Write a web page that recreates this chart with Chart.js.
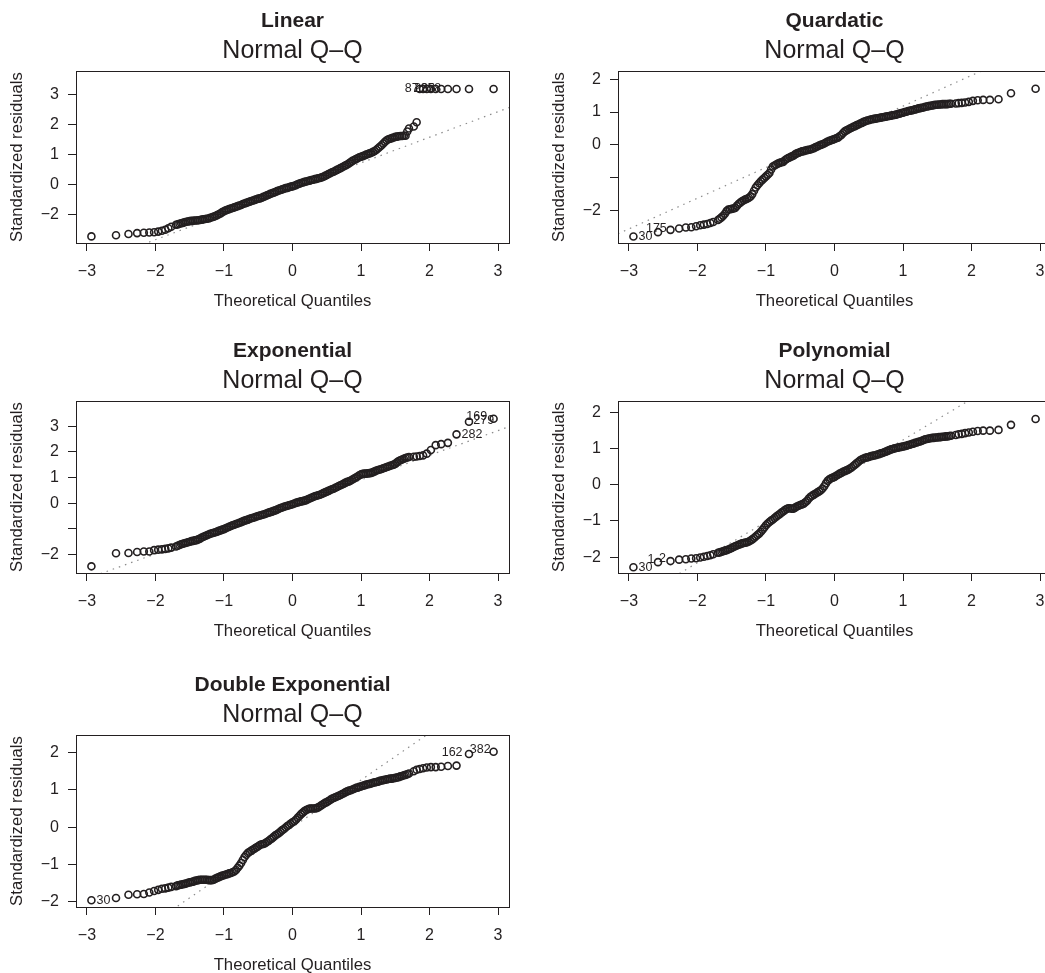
<!DOCTYPE html>
<html>
<head>
<meta charset="utf-8">
<title>Normal Q-Q plots</title>
<script src="https://cdn.jsdelivr.net/npm/chart.js@4.4.1/dist/chart.umd.min.js"></script>
<style>
  html, body { margin: 0; padding: 0; background: #fff; overflow: hidden; }
  body { width: 1045px; height: 973px; position: relative; }
  canvas { position: absolute; }
</style>
</head>
<body>
<script>
const FONT = "'Liberation Sans', Arial, Helvetica, sans-serif";
const INK = '#231f20';

// theoretical quantiles (same sample size for every fit)
const theoQuantiles = [
  -2.935, -2.576, -2.394, -2.268, -2.170, -2.090, -2.020, -1.960, -1.906, -1.857, -1.812, -1.770,
  -1.700, -1.675, -1.650, -1.625, -1.600, -1.575, -1.550, -1.525, -1.500, -1.475,
  -1.450, -1.425, -1.400, -1.375, -1.350, -1.325, -1.300, -1.275, -1.250, -1.225,
  -1.200, -1.175, -1.150, -1.125, -1.100, -1.075, -1.050, -1.025, -1.000, -0.975,
  -0.950, -0.925, -0.900, -0.875, -0.850, -0.825, -0.800, -0.775, -0.750, -0.725,
  -0.700, -0.675, -0.650, -0.625, -0.600, -0.575, -0.550, -0.525, -0.500, -0.475,
  -0.450, -0.425, -0.400, -0.375, -0.350, -0.325, -0.300, -0.275, -0.250, -0.225,
  -0.200, -0.175, -0.150, -0.125, -0.100, -0.075, -0.050, -0.025, 0.000, 0.025,
  0.050, 0.075, 0.100, 0.125, 0.150, 0.175, 0.200, 0.225, 0.250, 0.275,
  0.300, 0.325, 0.350, 0.375, 0.400, 0.425, 0.450, 0.475, 0.500, 0.525,
  0.550, 0.575, 0.600, 0.625, 0.650, 0.675, 0.700, 0.725, 0.750, 0.775,
  0.800, 0.825, 0.850, 0.875, 0.900, 0.925, 0.950, 0.975, 1.000, 1.025,
  1.050, 1.075, 1.100, 1.125, 1.150, 1.175, 1.200, 1.225, 1.250, 1.275,
  1.300, 1.325, 1.350, 1.375, 1.400, 1.425, 1.450, 1.475, 1.500, 1.525,
  1.550, 1.575, 1.600, 1.625, 1.650, 1.675, 1.700,
  1.770, 1.812, 1.857, 1.906, 1.960, 2.020, 2.090, 2.170, 2.268, 2.394, 2.576, 2.935
];

const linearResiduals = [
  -1.72, -1.68, -1.64, -1.61, -1.60, -1.59, -1.58, -1.56, -1.53, -1.50, -1.45, -1.40,
  -1.33, -1.32, -1.30, -1.28, -1.27, -1.25, -1.23, -1.22, -1.21, -1.20,
  -1.20, -1.19, -1.19, -1.18, -1.17, -1.16, -1.15, -1.14, -1.13, -1.12,
  -1.10, -1.08, -1.06, -1.04, -1.01, -0.98, -0.95, -0.91, -0.88, -0.85,
  -0.83, -0.81, -0.79, -0.77, -0.75, -0.73, -0.71, -0.69, -0.67, -0.64,
  -0.62, -0.60, -0.58, -0.56, -0.54, -0.52, -0.50, -0.48, -0.46, -0.45,
  -0.43, -0.40, -0.38, -0.35, -0.33, -0.30, -0.28, -0.26, -0.24, -0.21,
  -0.19, -0.17, -0.15, -0.13, -0.11, -0.10, -0.08, -0.06, -0.05, -0.03,
  -0.01, 0.02, 0.04, 0.06, 0.08, 0.10, 0.11, 0.13, 0.14, 0.16,
  0.17, 0.19, 0.20, 0.22, 0.23, 0.25, 0.27, 0.30, 0.33, 0.36,
  0.39, 0.42, 0.44, 0.47, 0.50, 0.53, 0.56, 0.59, 0.62, 0.65,
  0.68, 0.72, 0.76, 0.80, 0.83, 0.86, 0.89, 0.92, 0.94, 0.96,
  0.98, 1.01, 1.03, 1.05, 1.07, 1.10, 1.13, 1.17, 1.22, 1.27,
  1.32, 1.38, 1.44, 1.49, 1.52, 1.54, 1.56, 1.58, 1.60, 1.61,
  1.62, 1.63, 1.63, 1.64, 1.64, 1.78, 1.88,
  1.95, 2.09, 3.20, 3.20, 3.20, 3.20, 3.20, 3.20, 3.20, 3.20, 3.20, 3.20
];

const quadraticResiduals = [
  -2.79, -2.66, -2.59, -2.55, -2.52, -2.51, -2.48, -2.45, -2.43, -2.41, -2.38, -2.35,
  -2.29, -2.25, -2.21, -2.16, -2.10, -2.02, -1.97, -1.96, -1.95, -1.94,
  -1.92, -1.86, -1.80, -1.76, -1.72, -1.69, -1.66, -1.64, -1.61, -1.57,
  -1.50, -1.40, -1.30, -1.23, -1.17, -1.11, -1.06, -1.01, -0.96, -0.91,
  -0.86, -0.75, -0.66, -0.63, -0.60, -0.57, -0.55, -0.53, -0.52, -0.47,
  -0.43, -0.40, -0.38, -0.35, -0.33, -0.29, -0.26, -0.24, -0.22, -0.20,
  -0.19, -0.17, -0.16, -0.15, -0.14, -0.12, -0.10, -0.07, -0.05, -0.02,
  0.00, 0.02, 0.04, 0.07, 0.10, 0.12, 0.14, 0.16, 0.18, 0.20,
  0.22, 0.26, 0.30, 0.36, 0.41, 0.44, 0.47, 0.50, 0.52, 0.55,
  0.57, 0.60, 0.62, 0.65, 0.67, 0.70, 0.72, 0.74, 0.75, 0.77,
  0.78, 0.79, 0.80, 0.81, 0.82, 0.83, 0.84, 0.85, 0.86, 0.87,
  0.88, 0.89, 0.90, 0.91, 0.92, 0.94, 0.95, 0.97, 0.98, 1.00,
  1.01, 1.03, 1.04, 1.05, 1.06, 1.08, 1.09, 1.11, 1.12, 1.13,
  1.14, 1.16, 1.17, 1.18, 1.19, 1.20, 1.21, 1.22, 1.22, 1.23,
  1.23, 1.24, 1.24, 1.24, 1.24, 1.25, 1.25,
  1.26, 1.27, 1.28, 1.29, 1.31, 1.34, 1.36, 1.37, 1.37, 1.39, 1.57, 1.71
];

const exponentialResiduals = [
  -2.46, -1.95, -1.94, -1.90, -1.88, -1.88, -1.83, -1.81, -1.80, -1.78, -1.76, -1.73,
  -1.69, -1.66, -1.63, -1.60, -1.58, -1.56, -1.54, -1.52, -1.50, -1.48,
  -1.47, -1.45, -1.44, -1.41, -1.38, -1.34, -1.31, -1.28, -1.25, -1.22,
  -1.19, -1.17, -1.15, -1.13, -1.11, -1.08, -1.06, -1.03, -1.01, -0.98,
  -0.95, -0.92, -0.89, -0.86, -0.84, -0.81, -0.79, -0.76, -0.74, -0.71,
  -0.68, -0.66, -0.64, -0.61, -0.59, -0.57, -0.55, -0.52, -0.50, -0.48,
  -0.46, -0.44, -0.42, -0.39, -0.37, -0.35, -0.33, -0.30, -0.28, -0.25,
  -0.22, -0.19, -0.17, -0.14, -0.12, -0.10, -0.08, -0.06, -0.04, -0.01,
  0.01, 0.03, 0.05, 0.07, 0.08, 0.10, 0.12, 0.15, 0.18, 0.21,
  0.24, 0.27, 0.29, 0.31, 0.33, 0.36, 0.39, 0.42, 0.45, 0.48,
  0.51, 0.54, 0.56, 0.60, 0.63, 0.67, 0.70, 0.73, 0.76, 0.80,
  0.83, 0.85, 0.88, 0.92, 0.96, 1.00, 1.04, 1.09, 1.12, 1.14,
  1.15, 1.15, 1.16, 1.17, 1.18, 1.21, 1.24, 1.27, 1.29, 1.31,
  1.33, 1.36, 1.38, 1.41, 1.43, 1.46, 1.48, 1.50, 1.53, 1.59,
  1.64, 1.67, 1.70, 1.73, 1.76, 1.78, 1.80,
  1.81, 1.82, 1.84, 1.86, 1.93, 2.07, 2.26, 2.30, 2.35, 2.68, 3.17, 3.29
];

const polynomialResiduals = [
  -2.28, -2.14, -2.11, -2.07, -2.06, -2.04, -2.03, -2.01, -1.99, -1.97, -1.95, -1.92,
  -1.88, -1.87, -1.85, -1.84, -1.82, -1.81, -1.79, -1.77, -1.75, -1.72,
  -1.70, -1.68, -1.66, -1.64, -1.62, -1.61, -1.60, -1.59, -1.57, -1.54,
  -1.51, -1.47, -1.43, -1.39, -1.35, -1.30, -1.24, -1.18, -1.12, -1.07,
  -1.03, -0.99, -0.96, -0.92, -0.88, -0.84, -0.81, -0.77, -0.74, -0.70,
  -0.67, -0.65, -0.65, -0.66, -0.66, -0.63, -0.60, -0.58, -0.56, -0.54,
  -0.52, -0.48, -0.44, -0.38, -0.33, -0.30, -0.27, -0.24, -0.21, -0.18,
  -0.15, -0.10, -0.04, 0.04, 0.11, 0.15, 0.18, 0.20, 0.22, 0.25,
  0.28, 0.31, 0.33, 0.36, 0.38, 0.40, 0.42, 0.45, 0.48, 0.52,
  0.56, 0.60, 0.64, 0.68, 0.71, 0.73, 0.75, 0.76, 0.77, 0.79,
  0.80, 0.81, 0.82, 0.84, 0.85, 0.87, 0.88, 0.90, 0.92, 0.94,
  0.96, 0.98, 0.99, 1.01, 1.02, 1.03, 1.04, 1.05, 1.06, 1.07,
  1.08, 1.10, 1.11, 1.13, 1.14, 1.16, 1.17, 1.19, 1.20, 1.22,
  1.24, 1.26, 1.27, 1.28, 1.29, 1.30, 1.30, 1.31, 1.31, 1.32,
  1.32, 1.33, 1.33, 1.34, 1.34, 1.35, 1.36,
  1.38, 1.40, 1.41, 1.43, 1.45, 1.47, 1.49, 1.50, 1.50, 1.52, 1.66, 1.82
];

const doubleExpResiduals = [
  -1.96, -1.90, -1.81, -1.80, -1.79, -1.75, -1.71, -1.68, -1.65, -1.64, -1.62, -1.60,
  -1.58, -1.56, -1.55, -1.54, -1.53, -1.52, -1.51, -1.49, -1.48, -1.47,
  -1.46, -1.44, -1.43, -1.42, -1.41, -1.41, -1.41, -1.41, -1.41, -1.42,
  -1.42, -1.42, -1.41, -1.38, -1.36, -1.34, -1.32, -1.30, -1.29, -1.27,
  -1.26, -1.24, -1.23, -1.21, -1.19, -1.15, -1.09, -1.03, -0.96, -0.88,
  -0.80, -0.74, -0.69, -0.66, -0.63, -0.60, -0.57, -0.54, -0.51, -0.48,
  -0.46, -0.45, -0.43, -0.40, -0.37, -0.33, -0.30, -0.26, -0.22, -0.19,
  -0.16, -0.12, -0.08, -0.05, -0.01, 0.03, 0.06, 0.10, 0.13, 0.16,
  0.20, 0.25, 0.30, 0.35, 0.39, 0.43, 0.46, 0.48, 0.50, 0.50,
  0.50, 0.50, 0.51, 0.53, 0.56, 0.59, 0.62, 0.65, 0.67, 0.70,
  0.73, 0.76, 0.78, 0.80, 0.82, 0.84, 0.86, 0.89, 0.91, 0.94,
  0.96, 0.98, 0.99, 1.01, 1.03, 1.05, 1.06, 1.08, 1.09, 1.11,
  1.12, 1.14, 1.15, 1.16, 1.17, 1.19, 1.20, 1.21, 1.22, 1.24,
  1.25, 1.26, 1.27, 1.28, 1.29, 1.30, 1.30, 1.31, 1.32, 1.33,
  1.34, 1.36, 1.37, 1.39, 1.40, 1.42, 1.44,
  1.50, 1.54, 1.56, 1.58, 1.60, 1.61, 1.61, 1.62, 1.64, 1.65, 1.96, 2.02
];

// x axis (shared)
const xRange = [-3.16, 3.16];
const xTickValues = [-3, -2, -1, 0, 1, 2, 3];
const xTickLabels = ['−3', '−2', '−1', '0', '1', '2', '3'];

// y axes, labels as printed in the figure
const linearRange = [-1.94, 3.80];
const linearYTicks = [-1, 0, 1, 2, 3];
const linearYLabels = ['−2', '0', '1', '2', '3'];

const quadraticRange = [-2.99, 2.25];
const quadraticYTicks = [-2, -1, 0, 1, 2];
const quadraticYLabels = ['−2', '', '0', '1', '2'];

const exponentialRange = [-2.72, 3.98];
const exponentialYTicks = [-2, -1, 0, 1, 2, 3];
const exponentialYLabels = ['−2', '', '0', '1', '2', '3'];

const polynomialRange = [-2.44, 2.32];
const polynomialYTicks = [-2, -1, 0, 1, 2];
const polynomialYLabels = ['−2', '−1', '0', '1', '2'];

const doubleExpRange = [-2.14, 2.47];
const doubleExpYTicks = [-2, -1, 0, 1, 2];
const doubleExpYLabels = ['−2', '−1', '0', '1', '2'];

// qq reference lines (end points at the x limits)
const linearRefLine = [[-3.16, -2.82], [3.16, 2.58]];
const quadraticRefLine = [[-3.16, -2.71], [3.16, 3.20]];
const exponentialRefLine = [[-3.16, -3.09], [3.16, 2.98]];
const polynomialRefLine = [[-3.16, -3.47], [3.16, 3.69]];
const doubleExpRefLine = [[-3.16, -3.99], [3.16, 3.99]];

// observation ids written next to the extreme points
const linearIds = [{ x: 1.74, y: 3.22, text: '87' }, { x: 1.93, y: 3.22, text: '233' }, { x: 2.02, y: 3.22, text: '258' }];
const quadraticIds = [{ x: -2.76, y: -2.79, text: '30' }, { x: -2.60, y: -2.54, text: '175' }];
const exponentialIds = [{ x: 2.69, y: 3.39, text: '169' }, { x: 2.79, y: 3.20, text: '279' }, { x: 2.62, y: 2.68, text: '282' }];
const polynomialIds = [{ x: -2.76, y: -2.28, text: '30' }, { x: -2.68, y: -2.07, text: '1' }, { x: -2.51, y: -2.05, text: '2' }];
const doubleExpIds = [{ x: -2.76, y: -1.96, text: '30' }, { x: 2.33, y: 2.00, text: '162' }, { x: 2.74, y: 2.07, text: '382' }];

const panels = [
  { title: 'Linear', res: linearResiduals, range: linearRange, ticks: linearYTicks, labels: linearYLabels, ref: linearRefLine, ids: linearIds, left: 0, top: 0 },
  { title: 'Quardatic', res: quadraticResiduals, range: quadraticRange, ticks: quadraticYTicks, labels: quadraticYLabels, ref: quadraticRefLine, ids: quadraticIds, left: 542, top: 0 },
  { title: 'Exponential', res: exponentialResiduals, range: exponentialRange, ticks: exponentialYTicks, labels: exponentialYLabels, ref: exponentialRefLine, ids: exponentialIds, left: 0, top: 330 },
  { title: 'Polynomial', res: polynomialResiduals, range: polynomialRange, ticks: polynomialYTicks, labels: polynomialYLabels, ref: polynomialRefLine, ids: polynomialIds, left: 542, top: 330 },
  { title: 'Double Exponential', res: doubleExpResiduals, range: doubleExpRange, ticks: doubleExpYTicks, labels: doubleExpYLabels, ref: doubleExpRefLine, ids: doubleExpIds, left: 0, top: 664 }
];

// box around the plotting region, like R's box()
const frameBox = {
  id: 'frameBox',
  afterDraw(chart) {
    const { ctx, chartArea: a } = chart;
    ctx.save();
    ctx.strokeStyle = INK;
    ctx.lineWidth = 1;
    ctx.strokeRect(Math.round(a.left) + 0.5, Math.round(a.top) + 0.5, Math.round(a.right - a.left), Math.round(a.bottom - a.top));
    ctx.restore();
  }
};

const idLabels = {
  id: 'idLabels',
  afterDatasetsDraw(chart, args, opts) {
    const { ctx, scales: { x, y } } = chart;
    ctx.save();
    ctx.font = '12.5px ' + FONT;
    ctx.fillStyle = INK;
    ctx.textAlign = 'center';
    ctx.textBaseline = 'middle';
    (opts.items || []).forEach(l => ctx.fillText(l.text, x.getPixelForValue(l.x), y.getPixelForValue(l.y)));
    ctx.restore();
  }
};

function axisGrid() {
  return { drawOnChartArea: false, drawTicks: true, tickLength: 8, color: INK, tickColor: INK, lineWidth: 1 };
}

function makeChart(p) {
  const canvas = document.createElement('canvas');
  canvas.width = 520;
  canvas.height = 320;
  canvas.style.left = p.left + 'px';
  canvas.style.top = p.top + 'px';
  document.body.appendChild(canvas);

  new Chart(canvas, {
    type: 'scatter',
    data: {
      datasets: [
        {
          data: p.ref.map(([x, y]) => ({ x, y })),
          showLine: true,
          borderColor: '#8c8c8c',
          borderWidth: 1.2,
          borderDash: [1.5, 5],
          pointRadius: 0,
          clip: 0,
          order: 2
        },
        {
          data: theoQuantiles.map((x, i) => ({ x, y: p.res[i] })),
          pointStyle: 'circle',
          pointRadius: 3.5,
          borderWidth: 1.6,
          borderColor: INK,
          backgroundColor: 'rgba(0,0,0,0)',
          order: 1
        }
      ]
    },
    options: {
      responsive: false,
      animation: false,
      devicePixelRatio: 1,
      layout: { padding: { left: 0, right: 11, top: 0, bottom: 0 } },
      plugins: {
        legend: { display: false },
        tooltip: { enabled: false },
        title: {
          display: true, text: p.title, fullSize: false, color: INK,
          font: { family: FONT, size: 21, weight: 'bold' },
          padding: { top: 8.9, bottom: 0 }
        },
        subtitle: {
          display: true, text: 'Normal Q–Q', fullSize: false, color: INK,
          font: { family: FONT, size: 25, weight: 'normal' },
          padding: { top: 2.4, bottom: 4.5 }
        },
        idLabels: { items: p.ids }
      },
      scales: {
        x: {
          type: 'linear',
          min: xRange[0],
          max: xRange[1],
          afterBuildTicks: s => { s.ticks = xTickValues.map(v => ({ value: v })); },
          afterFit: s => { s.height = 77; },
          grid: axisGrid(),
          border: { display: false },
          ticks: {
            autoSkip: false, maxRotation: 0, padding: 11.4, color: INK,
            font: { family: FONT, size: 16 },
            callback: (v, i) => xTickLabels[i]
          },
          title: {
            display: true, text: 'Theoretical Quantiles', color: INK,
            font: { family: FONT, size: 16.7 },
            padding: { top: 0, bottom: 8.5 }
          }
        },
        y: {
          type: 'linear',
          min: p.range[0],
          max: p.range[1],
          afterBuildTicks: s => { s.ticks = p.ticks.map(v => ({ value: v })); },
          afterFit: s => { s.width = 76; },
          grid: axisGrid(),
          border: { display: false },
          ticks: {
            autoSkip: false, padding: 9, color: INK,
            font: { family: FONT, size: 16 },
            callback: (v, i) => p.labels[i]
          },
          title: {
            display: true, text: 'Standardized residuals', color: INK,
            font: { family: FONT, size: 16.7 },
            padding: { top: 7.5, bottom: 0 }
          }
        }
      }
    },
    plugins: [frameBox, idLabels]
  });
}

panels.forEach(makeChart);
</script>
</body>
</html>
